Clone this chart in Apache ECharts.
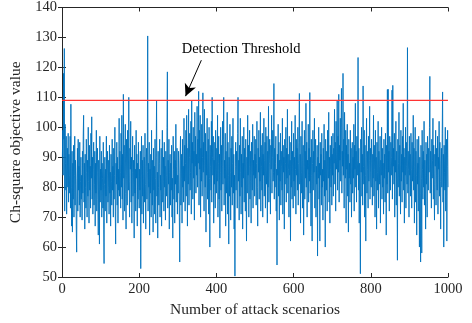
<!DOCTYPE html>
<html>
<head>
<meta charset="utf-8">
<style>
  * { margin: 0; padding: 0; }
  body { background: #ffffff; }
  #chart { width: 472px; height: 323px; }
</style>
<script src="https://cdn.jsdelivr.net/npm/echarts@6/dist/echarts.min.js"></script>
</head>
<body>
<div id="chart"></div>
<script>
// Ch-square value per attack scenario (scenario 1..1000)
var chiValues = [
  // 1-50
  90, 99, 84, 118, 96, 126.3, 72, 101, 88, 79,
  97, 71, 86, 93, 80, 98, 75, 91, 84, 78,
  97, 73, 107.7, 80, 67, 92, 65, 88, 76, 94,
  70, 84, 97, 74, 89, 81, 66, 58.3, 83, 93,
  72, 96, 79, 87, 74, 95, 70, 82, 90, 76,
  // 51-100
  84, 69, 92, 78, 97, 104, 75, 88, 66, 91,
  80, 73, 96, 85, 70, 89, 77, 100, 82, 68,
  94, 79, 87, 73, 98, 83, 103.5, 76, 90, 71,
  86, 95, 74, 81, 92, 67, 88, 78, 99, 72,
  85, 93, 76, 64, 89, 80, 61, 97, 75, 86,
  // 101-150
  79, 92, 70, 88, 83, 73, 95, 66, 54.5, 81,
  90, 72, 86, 77, 97, 68, 84, 92, 75, 80,
  89, 71, 94, 78, 85, 67, 91, 82, 74, 96,
  79, 87, 70, 93, 76, 84, 100, 72, 61, 88,
  81, 95, 74, 90, 68, 86, 79, 103, 77, 92,
  // 151-200
  85, 73, 98, 80, 104, 76, 91, 69, 111, 83,
  94, 72, 88, 101, 78, 66, 96, 84, 74, 99,
  87, 79, 110, 82, 70, 93, 86, 102, 75, 90,
  68, 85, 97, 77, 89, 81, 63, 94, 78, 86,
  72, 99, 83, 91, 67, 88, 76, 95, 80, 73,
  // 201-250
  86, 79, 92, 52.8, 84, 97, 71, 89, 77, 94,
  68, 83, 90, 75, 98, 81, 66, 87, 93, 76,
  85, 130.5, 72, 88, 80, 95, 64, 86, 78, 91,
  70, 99, 82, 74, 89, 65, 93, 79, 87, 71,
  96, 83, 68, 90, 109, 77, 85, 63, 92, 80,
  // 251-300
  74, 88, 96, 70, 84, 79, 93, 67, 86, 99,
  75, 82, 90, 72, 95, 80, 87, 69, 92, 84,
  77, 100, 118.5, 73, 89, 81, 96, 66, 85, 91,
  74, 88, 79, 94, 70, 83, 63, 97, 86, 76,
  92, 68, 89, 81, 101, 75, 87, 93, 71, 84,
  // 301-350
  78, 92, 85, 70, 55, 89, 97, 74, 83, 91,
  68, 96, 80, 87, 75, 103, 82, 94, 72, 88,
  99, 77, 104, 86, 67, 93, 81, 106, 74, 90,
  98, 79, 85, 102, 71, 109, 88, 95, 76, 100,
  83, 92, 69, 105, 87, 97, 78, 91, 84, 107,
  // 351-400
  80, 96, 88, 112, 74, 99, 86, 104, 70, 93,
  82, 101, 77, 90, 111.5, 85, 95, 72, 106, 89,
  80, 98, 65, 92, 84, 103, 76, 88, 96, 71,
  100, 83, 60, 94, 87, 79, 102, 75, 110, 90,
  84, 97, 68, 89, 81, 95, 73, 99, 86, 78,
  // 401-450
  93, 82, 104, 70, 88, 97, 76, 91, 63, 85,
  100, 79, 94, 72, 87, 102, 81, 96, 110, 74,
  89, 83, 98, 67, 92, 78, 86, 105, 71, 95,
  84, 61, 90, 77, 101, 85, 69, 93, 80, 97,
  74, 88, 103, 78, 91, 66, 84, 50.3, 87, 95,
  // 451-500
  79, 92, 86, 73, 98, 110, 82, 89, 69, 94,
  77, 103, 85, 71, 91, 80, 97, 66, 88, 83,
  100, 75, 93, 86, 72, 96, 81, 62, 90, 78,
  104, 84, 94, 70, 87, 99, 76, 92, 82, 68,
  95, 85, 79, 101, 73, 89, 84, 97, 77, 91,
  // 501-550
  83, 96, 74, 88, 102, 80, 67, 93, 85, 99,
  76, 90, 82, 105, 72, 94, 87, 79, 98, 70,
  91, 84, 103, 77, 89, 95, 73, 100, 86, 81,
  97, 68, 92, 80, 107, 75, 88, 96, 83, 71,
  94, 86, 104, 78, 90, 99, 82, 85, 114.6, 76,
  // 551-600
  93, 80, 88, 97, 72, 86, 54, 91, 84, 101,
  77, 95, 69, 89, 82, 98, 74, 92, 87, 79,
  103, 71, 94, 85, 90, 66, 96, 81, 88, 100,
  75, 93, 83, 106, 78, 91, 86, 70, 97, 84,
  89, 62, 95, 80, 102, 76, 92, 87, 73, 98,
  // 601-650
  82, 90, 77, 104, 86, 71, 96, 84, 93, 79,
  100, 74, 88, 95, 111.3, 81, 91, 68, 97, 85,
  78, 102, 73, 89, 94, 64, 87, 99, 76, 92,
  83, 108, 80, 95, 70, 89, 86, 101, 75, 93,
  82, 111.6, 78, 90, 67, 96, 84, 62, 88, 99,
  // 651-700
  79, 92, 85, 103, 73, 89, 96, 70, 87, 81,
  94, 57, 90, 83, 100, 76, 88, 62, 95, 84,
  91, 74, 98, 80, 86, 69, 93, 82, 101, 77,
  89, 60, 96, 85, 79, 92, 72, 99, 87, 83,
  105, 75, 90, 68, 94, 86, 80, 97, 74, 91,
  // 701-750
  84, 98, 77, 93, 88, 106, 81, 95, 72, 102,
  86, 91, 109, 79, 97, 85, 111, 75, 94, 89,
  103, 82, 100, 113, 78, 92, 87, 118, 84, 96,
  73, 105, 90, 83, 99, 68, 94, 86, 101, 77,
  91, 65, 96, 83, 88, 75, 99, 81, 93, 70,
  // 751-800
  87, 95, 78, 90, 83, 101, 72, 94, 86, 108,
  80, 92, 75, 97, 84, 89, 123.3, 79, 93, 68,
  88, 82, 51.1, 96, 85, 100, 77, 91, 74, 113.8,
  87, 81, 99, 70, 94, 84, 62, 90, 103, 78,
  92, 86, 73, 97, 82, 89, 107, 76, 93, 85,
  // 801-850
  80, 96, 88, 74, 91, 83, 104, 77, 94, 86,
  70, 99, 82, 90, 66, 95, 85, 79, 102, 73,
  92, 87, 81, 97, 68, 89, 84, 100, 76, 93,
  80, 88, 71, 96, 83, 91, 75, 98, 86, 64,
  94, 81, 112.6, 78, 112.7, 85, 92, 72, 97, 88,
  // 851-900
  79, 95, 84, 90, 112.4, 76, 114, 87, 93, 81,
  98, 70, 89, 85, 102, 74, 92, 83, 55.6, 96,
  80, 88, 105, 77, 94, 86, 71, 99, 82, 91,
  75, 97, 85, 108, 79, 93, 68, 90, 84, 100,
  73, 95, 87, 81, 126.6, 78, 92, 86, 70, 97,
  // 901-950
  84, 91, 77, 98, 86, 73, 95, 82, 89, 104,
  79, 93, 68, 87, 100, 75, 92, 84, 64, 96,
  81, 88, 72, 97, 85, 60, 90, 78, 55, 94,
  83, 58, 99, 86, 76, 92, 80, 102, 74, 89,
  84, 66, 95, 81, 91, 70, 97, 87, 79, 93,
  // 951-1000
  85, 100, 117, 78, 92, 86, 73, 96, 83, 89,
  103, 76, 94, 81, 69, 91, 87, 99, 74, 93,
  84, 79, 97, 71, 90, 86, 102, 77, 95, 82,
  66, 88, 93, 80, 98, 111.8, 75, 91, 60, 94,
  85, 79, 100, 72, 89, 96, 62, 87, 99, 80
];

var detectionThreshold = 109;
var xTicks = [0, 200, 400, 600, 800, 1000];
var yTicks = [50, 60, 70, 80, 90, 100, 110, 120, 130, 140];

// annotation: text position and arrow (start -> tip), in data units
var noteText = 'Detection Threshold';
var notePos = [464, 126.2];
var arrowFrom = [361, 122.4];
var arrowTo = [320, 110.4];

var seriesData = chiValues.map(function (v, i) { return [i + 1, v]; });

var font = 'Liberation Serif';
var ink = '#262626';

var chart = echarts.init(document.getElementById('chart'), null, { renderer: 'canvas' });

var option = {
  backgroundColor: '#ffffff',
  animation: false,
  textStyle: { fontFamily: font },
  grid: { left: 62, right: 24, top: 7.5, bottom: 46, containLabel: false },
  xAxis: [
    {
      type: 'value',
      min: xTicks[0],
      max: xTicks[xTicks.length - 1],
      interval: 200,
      name: 'Number of attack scenarios',
      nameLocation: 'middle',
      nameGap: 25,
      nameTextStyle: { fontFamily: font, fontSize: 15.5, color: ink },
      axisLine: { lineStyle: { color: ink, width: 1 } },
      axisTick: { inside: true, length: 4, lineStyle: { color: ink } },
      axisLabel: { fontFamily: font, fontSize: 14.5, color: ink, margin: 5, formatter: function (v) { return String(v); } },
      splitLine: { show: false }
    },
    {
      type: 'value',
      position: 'top',
      min: xTicks[0],
      max: xTicks[xTicks.length - 1],
      interval: 200,
      axisLine: { lineStyle: { color: ink, width: 1 } },
      axisTick: { inside: true, length: 4, lineStyle: { color: ink } },
      axisLabel: { show: false },
      splitLine: { show: false }
    }
  ],
  yAxis: [
    {
      type: 'value',
      min: yTicks[0],
      max: yTicks[yTicks.length - 1],
      interval: 10,
      name: 'Ch-square objective value',
      nameLocation: 'middle',
      nameGap: 35,
      nameTextStyle: { fontFamily: font, fontSize: 15.5, color: ink },
      axisLine: { show: true, lineStyle: { color: ink, width: 1 } },
      axisTick: { show: true, inside: true, length: 4, lineStyle: { color: ink } },
      axisLabel: { fontFamily: font, fontSize: 14.5, color: ink, margin: 5 },
      splitLine: { show: false }
    },
    {
      type: 'value',
      position: 'right',
      min: yTicks[0],
      max: yTicks[yTicks.length - 1],
      interval: 10,
      axisLine: { show: true, lineStyle: { color: ink, width: 1 } },
      axisTick: { show: true, inside: true, length: 4, lineStyle: { color: ink } },
      axisLabel: { show: false },
      splitLine: { show: false }
    }
  ],
  series: [
    {
      name: 'Ch-square',
      type: 'line',
      data: seriesData,
      showSymbol: false,
      symbol: 'none',
      sampling: null,
      lineStyle: { color: '#0072BD', width: 0.9 },
      z: 2
    },
    {
      name: 'Threshold',
      type: 'line',
      data: [[xTicks[0], detectionThreshold], [xTicks[xTicks.length - 1], detectionThreshold]],
      showSymbol: false,
      symbol: 'none',
      lineStyle: { color: '#ff3333', width: 1.2 },
      z: 3,
      markLine: {
        silent: true,
        symbol: ['none', 'arrow'],
        symbolSize: [9, 12],
        label: { show: false },
        lineStyle: { color: '#000000', width: 1, type: 'solid' },
        data: [[{ coord: arrowFrom }, { coord: arrowTo }]]
      },
      markPoint: {
        silent: true,
        symbol: 'rect',
        symbolSize: 1,
        itemStyle: { color: 'rgba(0,0,0,0)' },
        label: {
          show: true,
          formatter: noteText,
          fontFamily: font,
          fontSize: 14.5,
          color: '#000000',
          position: 'inside'
        },
        data: [{ coord: notePos }]
      }
    }
  ]
};

chart.setOption(option);
</script>
</body>
</html>
